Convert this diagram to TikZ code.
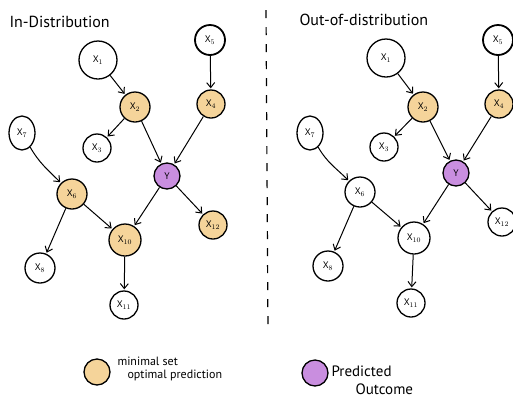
\documentclass[tikz,border=0pt]{standalone}
\usepackage{fontspec}
\setmainfont{PT Sans}
\usetikzlibrary{arrows.meta,shapes.geometric}
\definecolor{orng}{HTML}{F5D49A}
\definecolor{purp}{HTML}{C98EDF}
\begin{document}
\begin{tikzpicture}[x=1pt,y=-1pt,
  vnode/.style={circle,draw=black,line width=1.3pt,minimum size=#1,inner sep=0pt,font=\fontsize{9.5}{10}\selectfont},
  vnode/.default=28pt,
  onode/.style={vnode=#1,fill=orng},
  onode/.default=28pt,
  pnode/.style={vnode=#1,fill=purp},
  pnode/.default=26pt,
  egg/.style={ellipse,draw=black,line width=1.3pt,minimum width=26pt,minimum height=34pt,inner sep=0pt,font=\fontsize{9.5}{10}\selectfont},
  edge/.style={-{Straight Barb[length=5pt,width=8pt]},line width=1pt,shorten >=1pt},
  ttl/.style={font=\fontsize{16}{18}\selectfont,anchor=west},
  lgd/.style={font=\fontsize{12}{13}\selectfont,anchor=west,align=left}]
\useasboundingbox (0,0) rectangle (513,400);
\clip (0,0) rectangle (513,400);
% ---------- left panel ----------
\node[ttl] (t1) at (6,22) {In-Distribution};
\node[vnode=38pt] (a1) at (98,60) {X$_1$};
\node[onode=30pt] (a2) at (135,107) {X$_2$};
\node[vnode=30pt,line width=1.8pt] (a5) at (210,40) {X$_5$};
\node[onode=28pt] (a4) at (211,104) {X$_4$};
\node[egg] (a7) at (22,133) {X$_7$};
\node[vnode=28pt] (a3) at (97,148) {X$_3$};
\node[pnode=26pt] (ay) at (167,176) {Y};
\node[onode=30pt] (a6) at (72,194) {X$_6$};
\node[onode=32pt] (a10) at (125,240) {X$_{10}$};
\node[onode=28pt] (a12) at (213,225) {X$_{12}$};
\node[vnode=30pt] (a8) at (40,268) {X$_8$};
\node[vnode=28pt] (a11) at (124,305) {X$_{11}$};
\draw[edge] (a1) -- (a2);
\draw[edge] (a2) -- (a3);
\draw[edge] (a2) -- (ay);
\draw[edge] (a5) -- (a4);
\draw[edge] (a4) -- (ay);
\draw[edge] (a7) to[out=-60,in=135] (a6);
\draw[edge] (a6) -- (a8);
\draw[edge] (a6) -- (a10);
\draw[edge] (ay) -- (a10);
\draw[edge] (ay) -- (a12);
\draw[edge] (a10) -- (a11);
% ---------- divider ----------
\coordinate (d1) at (266,10);
\coordinate (d2) at (268,332);
\draw[line width=1.2pt,dash pattern=on 8pt off 9pt] (d1) -- (d2);
% ---------- right panel ----------
\node[ttl] (t2) at (296,20) {Out-of-distribution};
\node[vnode=38pt] (b1) at (386,58) {X$_1$};
\node[onode=30pt] (b2) at (423,107) {X$_2$};
\node[vnode=30pt,line width=1.8pt] (b5) at (498,40) {X$_5$};
\node[onode=28pt] (b4) at (499,104) {X$_4$};
\node[egg] (b7) at (310,133) {X$_7$};
\node[vnode=28pt] (b3) at (384,147) {X$_3$};
\node[pnode=26pt] (by) at (456,173) {Y};
\node[vnode=30pt] (b6) at (360,192) {X$_6$};
\node[vnode=32pt] (b10) at (414,238) {X$_{10}$};
\node[vnode=28pt] (b12) at (502,222) {X$_{12}$};
\node[vnode=30pt] (b8) at (328,266) {X$_8$};
\node[vnode=28pt] (b11) at (411,303) {X$_{11}$};
\draw[edge] (b1) -- (b2);
\draw[edge] (b2) -- (b3);
\draw[edge] (b2) -- (by);
\draw[edge] (b5) -- (b4);
\draw[edge] (b4) -- (by);
\draw[edge] (b7) to[out=-60,in=135] (b6);
\draw[edge] (b6) -- (b8);
\draw[edge] (b6) -- (b10);
\draw[edge] (by) -- (b10);
\draw[edge] (by) -- (b12);
\draw[edge] (b10) -- (b11);
% ---------- legend ----------
\node[onode=26pt] (l1) at (97,372) {};
\node[lgd] (l1t) at (114,369) {minimal set\\\hspace*{10pt}optimal prediction};
\node[pnode=26pt] (l2) at (315,373) {};
\node[lgd,font=\fontsize{15}{16}\selectfont] (l2t) at (328,380) {Predicted\\[2pt]\hspace*{24pt}Outcome};
\end{tikzpicture}
\end{document}
